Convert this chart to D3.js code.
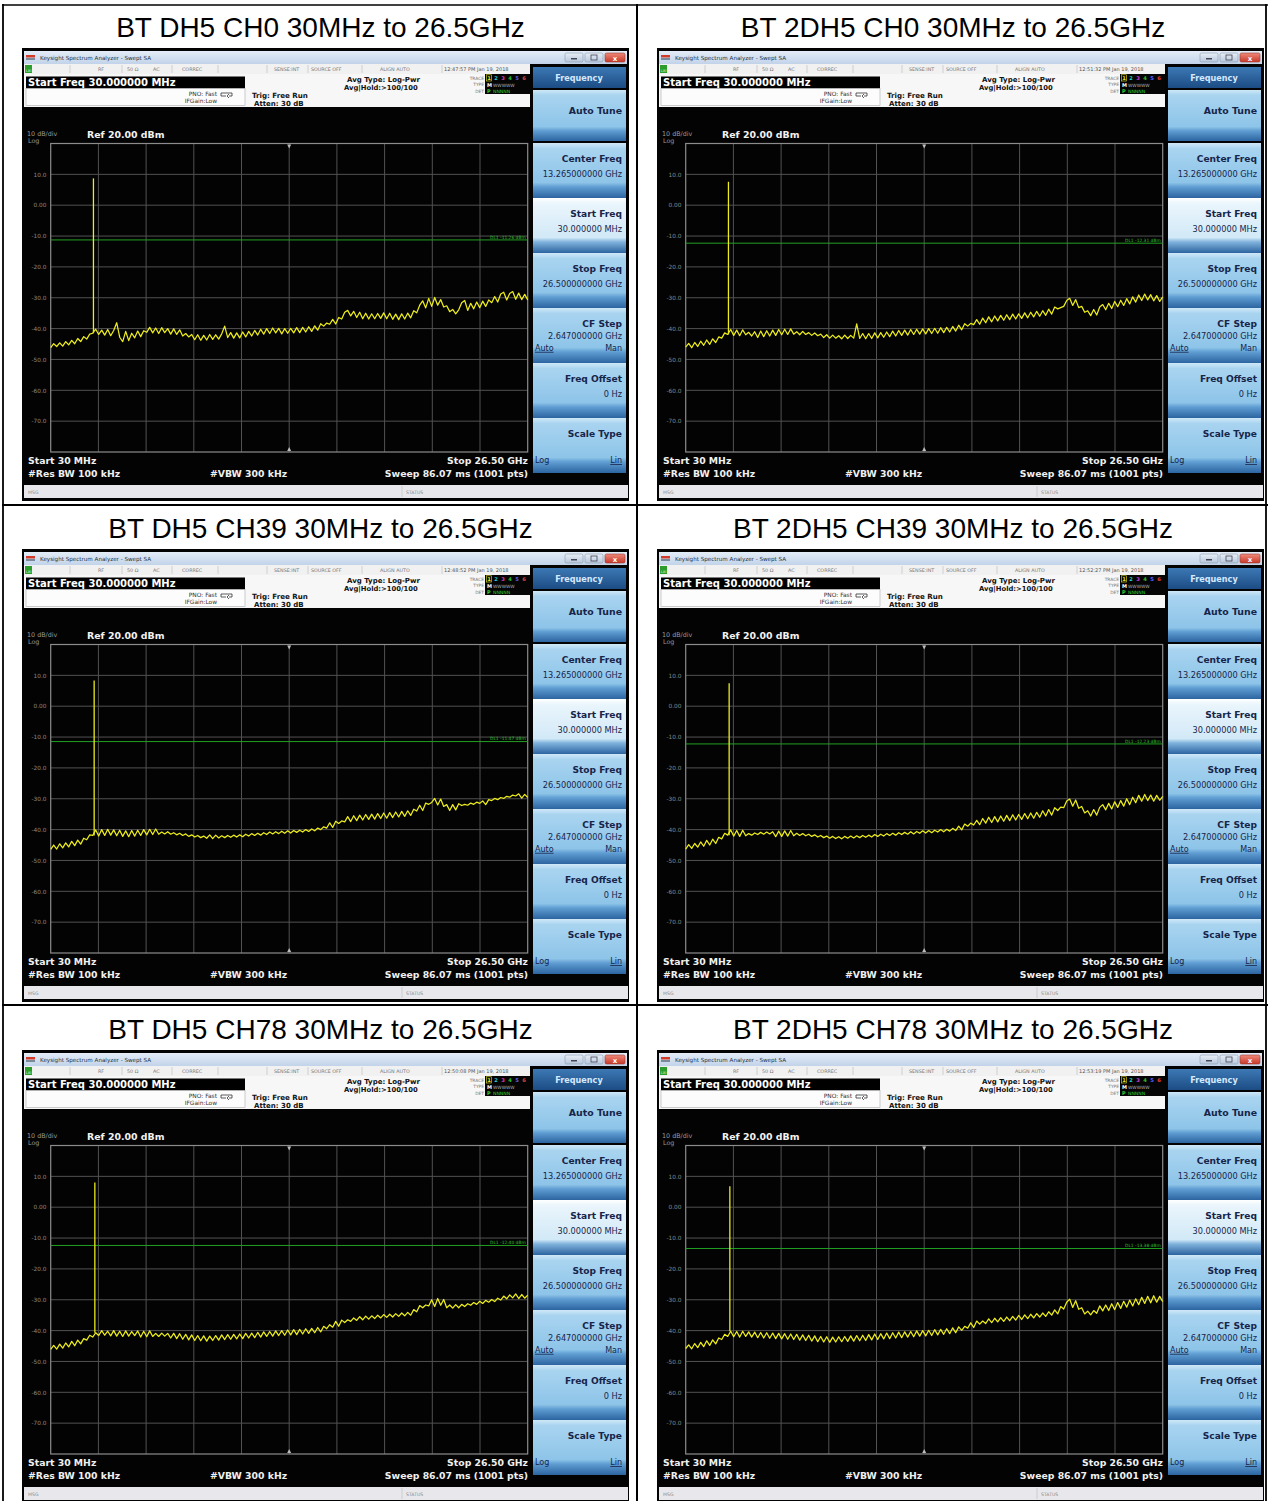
<!DOCTYPE html>
<html><head><meta charset="utf-8">
<script src="https://cdn.jsdelivr.net/npm/d3@7"></script>
<style>body{margin:0;background:#fff}</style>
</head><body><svg id="c"></svg>
<script>
// ---------------- DATA ----------------
const panelTitles = [
  "BT DH5 CH0 30MHz to 26.5GHz", "BT 2DH5 CH0 30MHz to 26.5GHz",
  "BT DH5 CH39 30MHz to 26.5GHz", "BT 2DH5 CH39 30MHz to 26.5GHz",
  "BT DH5 CH78 30MHz to 26.5GHz", "BT 2DH5 CH78 30MHz to 26.5GHz"
];
const timestamps = ["12:47:57 PM Jan 19, 2018","12:51:32 PM Jan 19, 2018","12:48:52 PM Jan 19, 2018","12:52:27 PM Jan 19, 2018","12:50:08 PM Jan 19, 2018","12:53:19 PM Jan 19, 2018"];
const displayLineDbm = [-11.26, -12.31, -11.47, -12.23, -12.40, -13.38];
const spikeFreqGHz = [2.402, 2.402, 2.441, 2.441, 2.480, 2.480];
const spikePeakDbm = [8.7, 7.6, 8.3, 7.4, 8.0, 6.8];
const sweepStartGHz = 0.03, sweepStopGHz = 26.5;
const refLevel = 20, dbPerDiv = 10;
const yTickValues = [10, 0, -10, -20, -30, -40, -50, -60, -70];
const yTickLabels = ["10.0", "0.00", "-10.0", "-20.0", "-30.0", "-40.0", "-50.0", "-60.0", "-70.0"];
const softkeys = [
  {t:"Auto Tune"}, {t:"Center Freq", v:"13.265000000 GHz"}, {t:"Start Freq", v:"30.000000 MHz", sel:true},
  {t:"Stop Freq", v:"26.500000000 GHz"}, {t:"CF Step", v:"2.647000000 GHz", am:true},
  {t:"Freq Offset", v:"0 Hz"}, {t:"Scale Type", ll:true}
];

const traceDH5CH0 = [
 -46.2,-44.9,-45.8,-44.6,-45.7,-44.2,-45.3,-43.8,-44.9,-43.2,
 -44.2,-42.6,-43.4,-41.8,-41.5,-40.2,-41.9,-40.5,-42.1,-40.3,
 -42.3,-40.6,-38.1,-42.8,-44.2,-40.9,-43.9,-41.5,-43.0,-40.8,
 -42.6,-40.7,-41.2,-39.6,-41.4,-39.8,-41.6,-39.7,-41.3,-40.0,
 -41.8,-40.1,-41.9,-40.4,-42.4,-41.6,-42.7,-41.9,-43.6,-42.0,
 -43.8,-42.2,-43.7,-41.9,-43.5,-42.0,-43.4,-41.7,-39.2,-42.9,
 -41.3,-43.1,-41.4,-43.0,-41.1,-42.7,-40.9,-42.4,-40.6,-42.1,
 -40.2,-41.8,-40.0,-41.6,-39.8,-41.4,-39.9,-41.7,-40.0,-41.5,
 -39.9,-41.4,-39.7,-41.3,-39.6,-41.1,-39.4,-40.9,-39.1,-40.5,
 -38.4,-39.2,-38.2,-38.6,-37.0,-38.5,-36.4,-36.9,-34.7,-34.1,
 -35.9,-34.4,-36.4,-34.7,-36.8,-35.0,-36.9,-35.2,-36.8,-35.1,
 -36.7,-34.9,-36.8,-35.0,-37.0,-35.3,-37.1,-35.2,-36.9,-35.0,
 -36.5,-34.2,-34.9,-32.4,-31.0,-33.3,-30.2,-32.8,-29.9,-32.4,
 -30.6,-33.0,-32.6,-34.5,-33.8,-35.2,-33.9,-31.6,-30.9,-34.1,
 -31.8,-33.6,-31.4,-33.2,-31.1,-32.8,-30.7,-31.6,-29.6,-31.4,
 -28.8,-28.2,-30.7,-28.6,-28.0,-30.5,-28.5,-30.6,-28.9,-30.7];
const trace2DH5CH0 = [
 -46.0,-44.8,-46.2,-44.5,-45.8,-44.1,-45.4,-43.7,-45.1,-43.3,
 -44.5,-42.7,-43.1,-41.4,-41.9,-40.3,-42.2,-40.5,-42.3,-40.4,
 -42.0,-41.2,-42.4,-41.0,-42.9,-40.8,-42.6,-40.7,-42.4,-40.5,
 -42.2,-40.3,-42.0,-40.2,-41.9,-40.1,-41.8,-41.0,-42.0,-40.9,
 -41.9,-41.3,-42.2,-41.4,-42.3,-41.8,-42.9,-42.0,-43.1,-42.1,
 -43.1,-42.3,-43.3,-42.1,-43.2,-42.2,-43.1,-38.5,-43.2,-41.6,
 -43.3,-41.6,-43.2,-41.4,-43.0,-41.3,-42.8,-41.1,-42.6,-40.8,
 -42.4,-40.6,-42.2,-40.5,-42.1,-40.3,-41.9,-40.2,-41.8,-40.1,
 -41.7,-40.0,-41.6,-39.9,-41.5,-39.7,-41.3,-39.6,-41.1,-39.3,
 -40.8,-38.9,-40.4,-38.4,-39.2,-38.3,-38.7,-37.1,-38.6,-36.6,
 -38.1,-36.2,-37.8,-35.9,-37.5,-35.7,-37.3,-35.5,-37.1,-35.3,
 -36.9,-35.2,-36.7,-34.9,-36.5,-34.7,-36.2,-34.4,-36.0,-34.2,
 -35.7,-33.7,-35.3,-33.0,-33.6,-33.2,-32.8,-30.9,-30.2,-32.5,
 -30.6,-33.2,-32.8,-34.7,-34.2,-35.8,-33.8,-35.6,-33.0,-32.2,
 -33.9,-31.8,-33.5,-31.2,-32.9,-30.8,-32.5,-30.3,-32.0,-29.7,
 -31.4,-29.1,-30.9,-28.8,-30.7,-29.0,-31.0,-29.3,-31.2,-29.7];
const traceDH5CH39 = [
 -46.4,-45.0,-46.3,-44.6,-45.9,-44.3,-45.6,-43.8,-45.2,-43.4,
 -44.7,-42.8,-43.3,-41.7,-41.9,-40.1,-42.1,-40.0,-41.9,-39.9,
 -41.8,-40.1,-42.0,-40.2,-42.2,-40.4,-42.3,-40.3,-42.1,-40.2,
 -41.9,-40.0,-41.7,-39.9,-41.6,-39.8,-41.5,-40.8,-41.4,-40.7,
 -41.5,-41.0,-41.7,-41.2,-41.9,-41.4,-42.2,-41.7,-42.4,-41.9,
 -42.6,-42.1,-42.8,-41.7,-42.9,-41.8,-42.7,-42.0,-42.6,-41.9,
 -42.5,-41.8,-42.4,-41.7,-42.3,-41.5,-42.1,-41.3,-41.9,-41.2,
 -41.8,-41.0,-41.6,-40.8,-41.4,-40.7,-41.3,-40.5,-41.2,-40.4,
 -41.1,-40.3,-40.9,-40.2,-40.8,-40.0,-40.6,-39.8,-40.4,-39.5,
 -40.0,-39.1,-39.5,-37.8,-39.3,-37.3,-38.0,-37.2,-37.5,-35.8,
 -37.4,-35.5,-37.1,-35.3,-36.9,-35.1,-36.7,-35.0,-36.6,-34.8,
 -36.4,-34.6,-36.3,-34.5,-36.1,-34.3,-35.9,-34.1,-35.7,-33.9,
 -35.4,-33.4,-34.0,-32.1,-33.8,-31.4,-31.8,-31.2,-29.9,-32.0,
 -30.1,-32.5,-31.9,-33.8,-31.9,-33.6,-31.6,-32.2,-31.8,-32.1,
 -31.4,-31.8,-31.1,-31.5,-30.7,-31.9,-30.3,-30.6,-29.9,-30.3,
 -29.6,-29.9,-29.2,-29.5,-28.8,-29.1,-28.4,-29.8,-28.6,-29.6];
const trace2DH5CH39 = [
 -46.3,-44.9,-46.1,-44.5,-45.7,-44.0,-45.4,-43.5,-45.0,-43.1,
 -44.5,-42.5,-43.0,-41.2,-41.8,-40.1,-42.1,-40.3,-42.2,-40.2,
 -42.0,-41.3,-41.8,-41.1,-41.6,-40.9,-41.5,-40.8,-41.4,-40.7,
 -42.3,-40.5,-42.2,-40.4,-42.1,-40.3,-42.0,-41.2,-41.9,-41.3,
 -42.0,-41.5,-42.2,-41.7,-42.4,-41.9,-42.6,-42.1,-42.8,-42.2,
 -42.9,-42.3,-43.0,-42.2,-42.8,-42.1,-42.7,-42.0,-42.6,-41.9,
 -42.5,-41.8,-42.4,-41.6,-42.2,-41.5,-42.1,-41.3,-41.9,-41.2,
 -41.8,-41.0,-41.6,-40.9,-41.5,-40.7,-41.4,-40.6,-41.2,-40.4,
 -41.1,-40.3,-41.0,-40.2,-40.8,-40.0,-40.7,-39.9,-40.5,-39.6,
 -40.3,-38.9,-40.1,-38.2,-38.9,-37.9,-38.5,-37.0,-38.4,-36.4,
 -37.9,-36.0,-37.7,-35.8,-37.5,-35.6,-37.3,-35.4,-37.1,-35.2,
 -36.9,-35.1,-36.7,-34.8,-36.5,-34.6,-36.3,-34.4,-36.0,-33.9,
 -35.6,-33.5,-35.3,-32.9,-33.8,-32.7,-32.9,-30.7,-30.1,-32.4,
 -30.4,-33.1,-32.5,-34.6,-33.9,-35.6,-33.5,-35.3,-32.8,-31.9,
 -33.6,-31.5,-33.3,-31.0,-32.8,-30.6,-32.4,-30.0,-31.9,-29.5,
 -31.3,-28.9,-30.8,-28.6,-30.6,-28.8,-30.8,-28.9,-30.5,-29.2];
const traceDH5CH78 = [
 -46.1,-44.8,-46.0,-44.4,-45.7,-44.0,-45.3,-43.5,-44.9,-43.1,
 -44.3,-42.6,-43.1,-41.5,-42.1,-40.7,-41.6,-40.0,-41.5,-40.2,
 -41.7,-40.0,-41.8,-40.2,-41.9,-40.1,-41.8,-40.3,-41.6,-40.1,
 -42.1,-40.2,-42.0,-40.1,-41.9,-40.9,-41.9,-40.8,-41.8,-40.9,
 -42.4,-40.9,-42.6,-41.0,-42.8,-41.2,-43.0,-41.4,-43.2,-41.6,
 -43.3,-41.7,-43.4,-41.8,-43.2,-41.6,-43.1,-41.4,-42.9,-41.3,
 -42.8,-41.2,-42.7,-41.1,-42.6,-40.9,-42.4,-40.8,-42.3,-40.6,
 -42.1,-40.4,-41.9,-40.3,-41.8,-40.1,-41.6,-40.0,-41.5,-39.8,
 -41.4,-39.7,-41.3,-39.6,-41.1,-39.4,-40.9,-39.3,-40.7,-39.0,
 -40.4,-38.6,-39.4,-38.1,-38.9,-37.0,-38.6,-36.6,-37.4,-36.5,
 -37.0,-35.9,-36.7,-35.5,-36.5,-35.3,-36.3,-35.2,-36.1,-35.0,
 -35.9,-34.8,-35.7,-34.7,-35.6,-34.5,-35.4,-34.3,-35.2,-34.1,
 -35.0,-33.2,-33.9,-31.9,-32.6,-31.7,-32.0,-30.0,-32.2,-29.6,
 -31.8,-29.9,-32.6,-31.7,-32.7,-31.6,-32.6,-31.5,-32.2,-31.3,
 -31.8,-30.9,-31.5,-30.5,-31.2,-30.2,-30.8,-29.9,-30.6,-29.5,
 -30.1,-28.8,-29.7,-28.4,-29.4,-28.1,-29.6,-28.3,-29.5,-28.5];
const trace2DH5CH78 = [
 -45.8,-44.6,-45.9,-44.2,-45.5,-43.8,-45.2,-43.3,-44.8,-43.0,
 -44.3,-42.4,-42.9,-41.2,-41.9,-40.2,-42.0,-40.3,-42.1,-40.2,
 -41.9,-40.4,-42.1,-40.5,-42.3,-40.6,-42.4,-40.7,-42.5,-40.8,
 -42.6,-40.9,-42.7,-41.0,-42.8,-41.1,-42.9,-41.2,-43.1,-41.4,
 -43.2,-41.5,-43.4,-41.7,-43.6,-41.9,-43.7,-42.0,-43.8,-42.1,
 -43.7,-42.0,-43.6,-41.9,-43.5,-41.7,-43.4,-41.6,-43.3,-41.5,
 -43.2,-41.3,-43.0,-41.1,-42.9,-41.0,-42.7,-40.8,-42.6,-40.7,
 -42.4,-40.5,-42.3,-40.4,-42.1,-40.3,-42.0,-40.1,-41.8,-40.0,
 -41.7,-39.9,-41.6,-39.7,-41.4,-39.6,-41.2,-39.4,-41.0,-39.1,
 -40.7,-38.8,-39.9,-38.6,-39.2,-37.5,-39.0,-36.9,-37.9,-36.9,
 -37.7,-36.2,-37.4,-36.0,-37.2,-35.8,-37.0,-35.6,-36.8,-35.4,
 -36.6,-35.1,-36.4,-34.9,-36.1,-34.7,-35.9,-34.5,-35.6,-34.3,
 -35.4,-33.9,-35.0,-33.3,-34.6,-32.2,-33.0,-30.8,-29.8,-32.5,
 -30.3,-33.1,-32.6,-34.6,-33.7,-34.9,-33.5,-34.4,-32.0,-33.6,
 -31.7,-33.5,-31.3,-33.2,-30.9,-32.8,-30.5,-32.4,-30.1,-32.0,
 -29.7,-31.6,-29.2,-31.2,-28.9,-31.0,-28.7,-30.8,-28.9,-30.6];
const traces = [traceDH5CH0, trace2DH5CH0, traceDH5CH39, trace2DH5CH39, traceDH5CH78, trace2DH5CH78];

// ---------------- DRAW ----------------
const W = 1269, H = 1501;
const FONT = "'Liberation Sans', Arial, sans-serif";
const SFONT = "'DejaVu Sans', Verdana, sans-serif";
const svg = d3.select("#c").attr("width", W).attr("height", H).style("display", "block")
  .style("font-family", FONT);
svg.append("rect").attr("width", W).attr("height", H).attr("fill", "#fff");

const defs = svg.append("defs");
function lg(id, stops) {
  const g = defs.append("linearGradient").attr("id", id).attr("x1", 0).attr("y1", 0).attr("x2", 0).attr("y2", 1);
  stops.forEach(([o, c]) => g.append("stop").attr("offset", o).attr("stop-color", c));
}
lg("gTitle", [[0, "#e4edf8"], [1, "#c2d3e9"]]);
lg("gKey", [[0, "#cfe8f7"], [0.1, "#a9d4f0"], [0.72, "#8dc4e8"], [0.8, "#5f9dd2"], [1, "#2c64a0"]]);
lg("gKeySel", [[0, "#ffffff"], [0.1, "#eaf5fc"], [0.72, "#d2e9f7"], [0.8, "#7fb2dc"], [1, "#2c64a0"]]);
lg("gHead", [[0, "#3d79b5"], [1, "#1c4c84"]]);
lg("gBtn", [[0, "#e8eef6"], [1, "#b7c7db"]]);
lg("gClose", [[0, "#ee8a7a"], [1, "#c8382a"]]);

function txt(g, x, y, s, size, fill, opts = {}) {
  const t = g.append("text").attr("x", x).attr("y", y).text(s)
    .attr("font-size", size).attr("fill", fill).attr("font-family", opts.font || SFONT);
  if (opts.anchor) t.attr("text-anchor", opts.anchor);
  if (opts.bold) t.attr("font-weight", "bold");
  if (opts.ul) t.attr("text-decoration", "underline");
  return t;
}

// grid geometry inside a screenshot (local coords)
const GX0 = 28.7, GX1 = 505.7, GY0 = 95.5, GY1 = 404;

function panel(idx) {
  const col = idx % 2, row = Math.floor(idx / 2);
  const ox = 22 + 635 * col, oy = 48 + 501 * row;
  const g = svg.append("g").attr("transform", `translate(${ox},${oy})`);

  // outer black frame
  g.append("rect").attr("width", 607).attr("height", 453).attr("fill", "#030303");
  // window title bar
  g.append("rect").attr("x", 2).attr("y", 3).attr("width", 603).attr("height", 13).attr("fill", "url(#gTitle)");
  g.append("rect").attr("x", 4).attr("y", 7).attr("width", 9).attr("height", 2.5).attr("fill", "#d23a2a");
  g.append("rect").attr("x", 4).attr("y", 10).attr("width", 9).attr("height", 2).attr("fill", "#7a8a9a");
  txt(g, 18, 12, "Keysight Spectrum Analyzer - Swept SA", 5.6, "#223344");
  [[543, "url(#gBtn)"], [563, "url(#gBtn)"], [583, "url(#gClose)"]].forEach(([x, f], k) => {
    g.append("rect").attr("x", x).attr("y", 5).attr("width", k === 2 ? 20 : 18).attr("height", 9)
      .attr("rx", 1.5).attr("fill", f).attr("stroke", k === 2 ? "#9a3a30" : "#8a9ab0").attr("stroke-width", 0.6);
  });
  g.append("rect").attr("x", 549).attr("y", 10).attr("width", 6).attr("height", 1.5).attr("fill", "#445");
  g.append("rect").attr("x", 569).attr("y", 7).attr("width", 6).attr("height", 5).attr("fill", "none").attr("stroke", "#445").attr("stroke-width", 0.8);
  txt(g, 593, 12.5, "x", 7, "#fff", {anchor: "middle", bold: true});

  // status row
  g.append("rect").attr("x", 2).attr("y", 16).attr("width", 506).attr("height", 10).attr("fill", "#f1f1f1");
  g.append("rect").attr("x", 3).attr("y", 17).attr("width", 7).attr("height", 8).attr("fill", "#2c9d2c");
  txt(g, 6.5, 23.5, "LXI", 3.6, "#dfd", {anchor: "middle"});
  [48, 100, 150, 196, 245, 286, 340, 420].forEach(x =>
    g.append("line").attr("x1", x).attr("x2", x).attr("y1", 17).attr("y2", 25).attr("stroke", "#bbb").attr("stroke-width", 0.6));
  const st = [[76, "RF"], [105, "50 Ω"], [131, "AC"], [160, "CORREC"], [252, "SENSE:INT"], [289, "SOURCE OFF"], [358, "ALIGN AUTO"]];
  st.forEach(([x, s]) => txt(g, x, 23.3, s, 4.8, "#777"));
  txt(g, 422, 23.3, timestamps[idx], 5, "#555");

  // info panel
  g.append("rect").attr("x", 2).attr("y", 26).attr("width", 506).attr("height", 33).attr("fill", "#f7f7f7");
  g.append("rect").attr("x", 4).attr("y", 28.5).attr("width", 219).attr("height", 12).attr("fill", "#000");
  txt(g, 6, 38.3, "Start Freq 30.000000 MHz", 10, "#fff", {bold: true});
  g.append("rect").attr("x", 4).attr("y", 40.5).attr("width", 219).attr("height", 17).attr("fill", "#fcfcfc")
    .attr("stroke", "#aaa").attr("stroke-width", 0.6);
  txt(g, 195, 47.5, "PNO: Fast", 5.9, "#333", {anchor: "end"});
  txt(g, 195, 55, "IFGain:Low", 5.9, "#333", {anchor: "end"});
  g.append("path").attr("d", "M199,45 h11 v3 h-3 M207,46 l-2,2 l2,2 M199,45 v3 h5").attr("fill", "none").attr("stroke", "#333").attr("stroke-width", 0.8);
  txt(g, 230, 50, "Trig: Free Run", 7.1, "#111", {bold: true});
  txt(g, 232, 57.5, "Atten: 30 dB", 7, "#111", {bold: true});
  txt(g, 325, 34, "Avg Type: Log-Pwr", 7, "#111", {bold: true});
  txt(g, 322, 42, "Avg|Hold:>100/100", 6.8, "#111", {bold: true});
  txt(g, 462, 31.5, "TRACE", 4.4, "#777", {anchor: "end"});
  txt(g, 462, 38, "TYPE", 4.4, "#777", {anchor: "end"});
  txt(g, 462, 44.5, "DET", 4.4, "#777", {anchor: "end"});
  g.append("rect").attr("x", 463).attr("y", 26).attr("width", 45).attr("height", 20).attr("fill", "#050505");
  const tcol = ["#e8e820", "#25d0d0", "#d040d0", "#30c030", "#6060ff", "#e04040"];
  tcol.forEach((c, k) => txt(g, 467 + k * 7, 32, String(k + 1), 5.2, c, {anchor: "middle", bold: true}));
  g.append("rect").attr("x", 464.5).attr("y", 26.8).attr("width", 5).attr("height", 6.2).attr("fill", "none").attr("stroke", "#e8e820").attr("stroke-width", 0.6);
  txt(g, 465, 38.5, "M", 5, "#fff", {bold: true});
  txt(g, 471, 38.5, "WWWWW", 4.4, "#aaa");
  txt(g, 465, 44.5, "P", 5, "#30d030", {bold: true});
  txt(g, 471, 44.5, "NNNNN", 4.6, "#30d030");

  // scale header
  txt(g, 5, 88, "10 dB/div", 6.4, "#9a9a9a");
  txt(g, 6, 95, "Log", 6.4, "#9a9a9a");
  txt(g, 65, 89.5, `Ref ${refLevel.toFixed(2)} dBm`, 9.4, "#f2f2f2", {bold: true});

  // scales
  const x = d3.scaleLinear().domain([sweepStartGHz, sweepStopGHz]).range([GX0, GX1]);
  const y = d3.scaleLinear().domain([refLevel - 10 * dbPerDiv, refLevel]).range([GY1, GY0]);

  // graticule
  const gg = g.append("g");
  d3.range(1, 10).forEach(k => {
    const yy = GY0 + (GY1 - GY0) * k / 10;
    gg.append("line").attr("x1", GX0).attr("x2", GX1).attr("y1", yy).attr("y2", yy).attr("stroke", "#525252").attr("stroke-width", 1);
    const xx = GX0 + (GX1 - GX0) * k / 10;
    gg.append("line").attr("x1", xx).attr("x2", xx).attr("y1", GY0).attr("y2", GY1).attr("stroke", "#525252").attr("stroke-width", 1);
  });
  gg.append("rect").attr("x", GX0).attr("y", GY0).attr("width", GX1 - GX0).attr("height", GY1 - GY0)
    .attr("fill", "none").attr("stroke", "#8c8c8c").attr("stroke-width", 1.2);
  const cx = (GX0 + GX1) / 2;
  g.append("path").attr("d", `M${cx - 2},${GY0 + 1} L${cx + 2},${GY0 + 1} L${cx},${GY0 + 5} Z`).attr("fill", "#bbb");
  g.append("path").attr("d", `M${cx - 2},${GY1 - 1} L${cx + 2},${GY1 - 1} L${cx},${GY1 - 5} Z`).attr("fill", "#bbb");

  // y tick labels
  yTickValues.forEach((v, k) => txt(g, 24.5, y(v) + 2.2, yTickLabels[k], 5.8, "#8a8a8a", {anchor: "end"}));

  // display line
  const dl = displayLineDbm[idx];
  g.append("line").attr("x1", GX0).attr("x2", GX1).attr("y1", y(dl)).attr("y2", y(dl)).attr("stroke", "#23a023").attr("stroke-width", 1);
  txt(g, GX1 - 2, y(dl) - 1.2, `DL1 ${dl.toFixed(2)} dBm`, 4.4, "#2fc02f", {anchor: "end"});

  // trace
  const vals = traces[idx];
  const n = vals.length;
  const fAt = i => sweepStartGHz + i * (sweepStopGHz - sweepStartGHz) / (n - 1);
  const line = d3.line().x((d, i) => x(fAt(i))).y(d => y(d));
  g.append("path").datum(vals).attr("d", line).attr("fill", "none").attr("stroke", "#ecec1e").attr("stroke-width", 1.25).attr("stroke-linejoin", "round");
  const si = Math.round((spikeFreqGHz[idx] - sweepStartGHz) / (sweepStopGHz - sweepStartGHz) * (n - 1));
  g.append("line").attr("x1", x(spikeFreqGHz[idx])).attr("x2", x(spikeFreqGHz[idx]))
    .attr("y1", y(vals[si])).attr("y2", y(spikePeakDbm[idx])).attr("stroke", "#ecec1e").attr("stroke-width", 1.3);

  // bottom annotations
  txt(g, 6, 415.5, "Start 30 MHz", 9.3, "#f0f0f0", {bold: true});
  txt(g, 6, 428.5, "#Res BW 100 kHz", 9.3, "#f0f0f0", {bold: true});
  txt(g, 188, 428.5, "#VBW 300 kHz", 9.3, "#f0f0f0", {bold: true});
  txt(g, 506, 415.5, "Stop 26.50 GHz", 9.3, "#f0f0f0", {bold: true, anchor: "end"});
  txt(g, 506, 428.5, "Sweep  86.07 ms (1001 pts)", 9.3, "#f0f0f0", {bold: true, anchor: "end"});

  // softkey panel
  g.append("rect").attr("x", 511).attr("y", 19).attr("width", 93).attr("height", 21).attr("fill", "url(#gHead)");
  txt(g, 557, 32.5, "Frequency", 8.1, "#d5e9ff", {anchor: "middle", bold: true});
  const tops = [42, 95, 150, 205, 260, 315, 370];
  softkeys.forEach((k, j) => {
    const t = tops[j], h = j === 0 ? 51 : 55;
    g.append("rect").attr("x", 511).attr("y", t).attr("width", 93).attr("height", h)
      .attr("fill", k.sel ? "url(#gKeySel)" : "url(#gKey)");
    const ty = j === 0 ? t + 24 : t + 18.5;
    txt(g, 600, ty, k.t, j === 0 ? 9.4 : 9.1, "#17254a", {anchor: "end", bold: true});
    if (k.v) txt(g, 600, ty + (k.am ? 12.3 : 15), k.v, 8.2, "#17254a", {anchor: "end"});
    if (k.am) {
      txt(g, 513, ty + 24.3, "Auto", 8, "#17254a", {ul: true});
      txt(g, 600, ty + 24.3, "Man", 8, "#17254a", {anchor: "end"});
    }
    if (k.ll) {
      txt(g, 513, ty + 26.5, "Log", 8, "#17254a");
      txt(g, 600, ty + 26.5, "Lin", 8, "#17254a", {anchor: "end", ul: true});
    }
  });

  // message bar
  g.append("rect").attr("x", 2).attr("y", 437).attr("width", 604).attr("height", 13).attr("fill", "#e8e8ec");
  txt(g, 6, 446, "MSG", 4.6, "#8a8a8a");
  g.append("line").attr("x1", 380).attr("x2", 380).attr("y1", 438).attr("y2", 449).attr("stroke", "#bbb").attr("stroke-width", 0.6);
  txt(g, 384, 446, "STATUS", 4.6, "#8a8a8a");
}

// table titles
panelTitles.forEach((s, idx) => {
  const col = idx % 2, row = Math.floor(idx / 2);
  const cxm = col === 0 ? 320.5 : 953;
  txt(svg, cxm, 37 + 501 * row, s, 28, "#000", {anchor: "middle", font: FONT});
});

d3.range(6).forEach(panel);

// table borders
const tb = svg.append("g").attr("stroke", "#000").attr("fill", "none");
tb.append("line").attr("x1", 2).attr("x2", 1268).attr("y1", 5).attr("y2", 5).attr("stroke-width", 1.6);
tb.append("line").attr("x1", 3).attr("x2", 3).attr("y1", 4).attr("y2", 1501).attr("stroke-width", 1.8);
tb.append("line").attr("x1", 637).attr("x2", 637).attr("y1", 4).attr("y2", 1501).attr("stroke-width", 2);
tb.append("line").attr("x1", 1266).attr("x2", 1266).attr("y1", 4).attr("y2", 1501).attr("stroke-width", 1.8);
[505, 1005].forEach(yy => tb.append("line").attr("x1", 2).attr("x2", 1268).attr("y1", yy).attr("y2", yy).attr("stroke-width", 1.8));
</script></body></html>
